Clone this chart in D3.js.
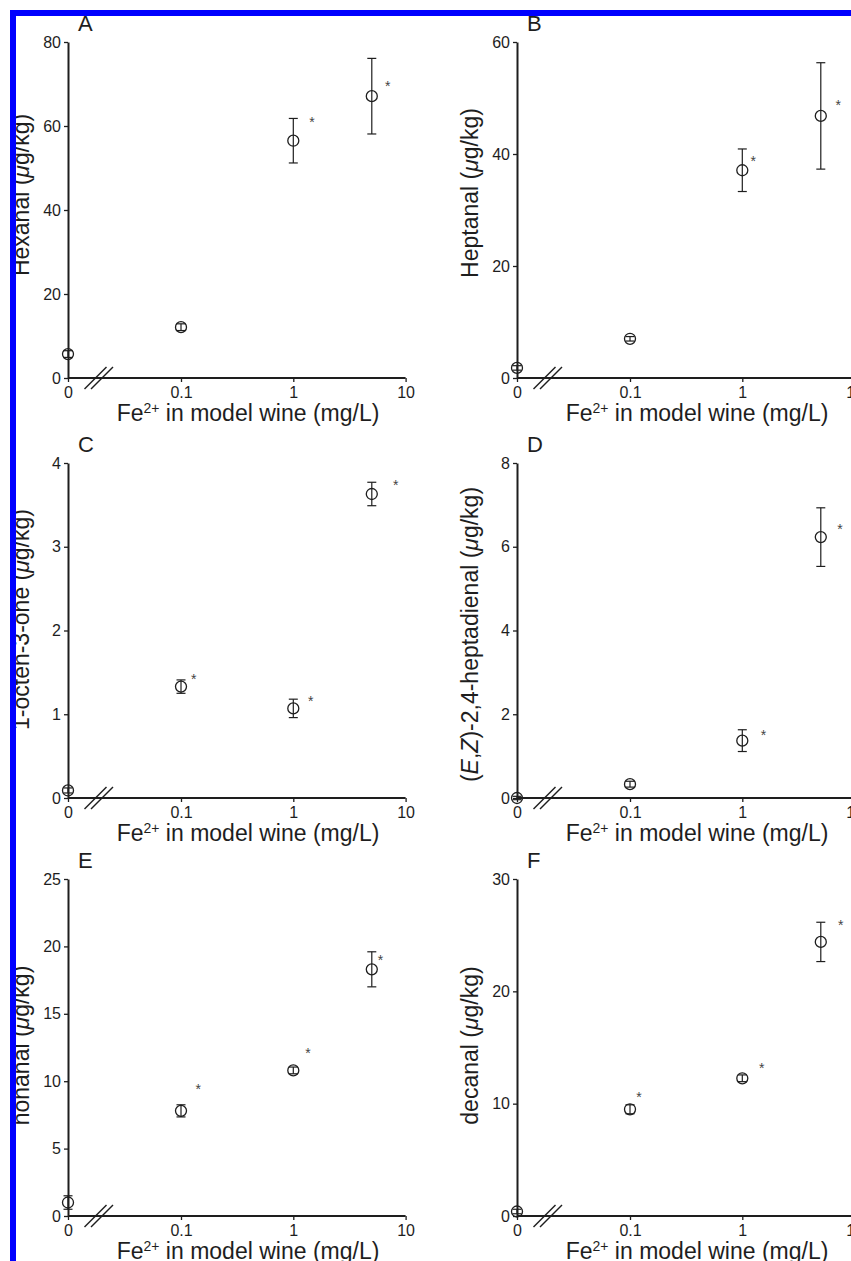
<!DOCTYPE html>
<html>
<head>
<meta charset="utf-8">
<script src="https://cdn.jsdelivr.net/npm/d3@7"></script>
<style>
  body { margin: 0; background: #fff; }
  svg { display: block; font-family: 'Liberation Sans', Arial, sans-serif; }
</style>
</head>
<body>
<div class="chart"></div>
<script>
// Fe2+ concentrations (mg/L); 0 sits on the broken part of the axis
const concentrations = [0, 0.1, 1, 5]
const xTicks = [0.1, 1, 10]

const hexanal = [5.7, 12.1, 56.5, 67.1]
const hexanalErr = [0.8, 0.8, 5.3, 9.0]
const hexanalStars = [[1.47, 61.7], [6.93, 70.2]]

const heptanal = [1.8, 7.0, 37.1, 46.8]
const heptanalErr = [0.4, 0.4, 3.8, 9.5]
const heptanalStars = [[1.25, 39.3], [7.16, 49.2]]

const octenone = [0.09, 1.33, 1.07, 3.63]
const octenoneErr = [0.03, 0.08, 0.11, 0.14]
const octenoneStars = [[0.13, 1.46], [1.43, 1.19], [8.16, 3.77]]

const heptadienal = [0.0, 0.33, 1.37, 6.23]
const heptadienalErr = [0.04, 0.07, 0.26, 0.7]
const heptadienalStars = [[1.54, 1.58], [7.4, 6.5]]

const nonanal = [1.0, 7.8, 10.8, 18.3]
const nonanalErr = [0.5, 0.45, 0.25, 1.3]
const nonanalStars = [[0.142, 9.64], [1.35, 12.3], [5.98, 19.2]]

const decanal = [0.4, 9.5, 12.26, 24.4]
const decanalErr = [0.2, 0.4, 0.3, 1.75]
const decanalStars = [[0.12, 10.9], [1.49, 13.4], [7.52, 26.2]]

const yTicksA = [0, 20, 40, 60, 80]
const yTicksB = [0, 20, 40, 60]
const yTicksC = [0, 1, 2, 3, 4]
const yTicksD = [0, 2, 4, 6, 8]
const yTicksE = [0, 5, 10, 15, 20, 25]
const yTicksF = [0, 10, 20, 30]

// label pieces: [text, italic]
const panels = [
  {letter: 'A', name: [['Hexanal (', 0], ['\u03bc', 1], ['g/kg)', 0]], values: hexanal, errs: hexanalErr, stars: hexanalStars, ticks: yTicksA, col: 0, row: 0, shift: -15},
  {letter: 'B', name: [['Heptanal (', 0], ['\u03bc', 1], ['g/kg)', 0]], values: heptanal, errs: heptanalErr, stars: heptanalStars, ticks: yTicksB, col: 1, row: 0, shift: -17},
  {letter: 'C', name: [['1-octen-3-one (', 0], ['\u03bc', 1], ['g/kg)', 0]], values: octenone, errs: octenoneErr, stars: octenoneStars, ticks: yTicksC, col: 0, row: 1, shift: -11},
  {letter: 'D', name: [['(', 0], ['E', 1], [',', 0], ['Z', 1], [')-2,4-heptadienal (', 0], ['\u03bc', 1], ['g/kg)', 0]], values: heptadienal, errs: heptadienalErr, stars: heptadienalStars, ticks: yTicksD, col: 1, row: 1, shift: 4},
  {letter: 'E', name: [['nonanal (', 0], ['\u03bc', 1], ['g/kg)', 0]], values: nonanal, errs: nonanalErr, stars: nonanalStars, ticks: yTicksE, col: 0, row: 2, shift: -2},
  {letter: 'F', name: [['decanal (', 0], ['\u03bc', 1], ['g/kg)', 0]], values: decanal, errs: decanalErr, stars: decanalStars, ticks: yTicksF, col: 1, row: 2, shift: -2}
]

const W = 851
const H = 1261
const colX = [68, 517]
const rowTop = [42, 463, 879]
const rowBottom = [378, 798, 1216]
const ink = '#1e1e1e'

const svg = d3.select('.chart')
  .append('svg')
  .attr('width', W)
  .attr('height', H)

svg.append('rect').attr('width', W).attr('height', H).attr('fill', '#fff')

panels.forEach(p => {
  const x0 = colX[p.col]
  const top = rowTop[p.row]
  const bottom = rowBottom[p.row]
  const g = svg.append('g')

  const x = d3.scaleLog().domain([0.1, 10]).range([x0 + 113, x0 + 337.6])
  const xZero = d3.scaleOrdinal().domain(['0']).range([x0])
  const xPos = v => (v === 0 ? x0 : x(v))
  const y = d3.scaleLinear()
    .domain([0, p.ticks[p.ticks.length - 1]])
    .range([bottom, top])

  // x axis: baseline, log ticks and the "0" tick
  g.append('line')
    .attr('x1', x0).attr('x2', x(10))
    .attr('y1', bottom).attr('y2', bottom)
    .attr('stroke', ink).attr('stroke-width', 2)

  const xa = g.append('g')
    .attr('transform', 'translate(0,' + bottom + ')')
    .call(d3.axisBottom(x).tickValues(xTicks).tickFormat(d3.format('')).tickSize(4).tickPadding(5))
  const xz = g.append('g')
    .attr('transform', 'translate(0,' + bottom + ')')
    .call(d3.axisBottom(xZero).tickSize(4).tickPadding(5))
  ;[xa, xz].forEach(a => {
    a.select('.domain').remove()
    a.selectAll('line').attr('stroke', ink).attr('stroke-width', 1.3)
    a.selectAll('text').attr('fill', ink).style('font-size', '16px')
      .attr('font-family', null)
  })

  // y axis
  const ya = g.append('g')
    .attr('transform', 'translate(' + x0 + ',0)')
    .call(d3.axisLeft(y).tickValues(p.ticks).tickFormat(d3.format('d')).tickSize(4).tickSizeOuter(0).tickPadding(3))
  ya.select('.domain').attr('stroke', ink).attr('stroke-width', 2)
  ya.selectAll('.tick line').attr('stroke', ink).attr('stroke-width', 1.3)
  ya.selectAll('text').attr('fill', ink).style('font-size', '16px').attr('font-family', null)

  // axis break marks
  ;[27.5, 34].forEach(off => {
    g.append('line')
      .attr('x1', x0 + off - 11).attr('y1', bottom + 11)
      .attr('x2', x0 + off + 11).attr('y2', bottom - 11)
      .attr('stroke', ink).attr('stroke-width', 1.5)
  })

  // x label
  const xl = g.append('text')
    .attr('x', x0 + 180).attr('y', bottom + 43)
    .attr('text-anchor', 'middle')
    .attr('fill', ink)
    .style('font-size', '23px')
  xl.append('tspan').text('Fe')
  xl.append('tspan').attr('dy', -8).style('font-size', '14px').text('2+')
  xl.append('tspan').attr('dy', 8).text(' in model wine (mg/L)')

  // y label
  const yl = g.append('text')
    .attr('transform', 'translate(' + (x0 - 39) + ',' + ((top + bottom) / 2 + p.shift) + ') rotate(-90)')
    .attr('text-anchor', 'middle')
    .attr('fill', ink)
    .style('font-size', '23px')
  p.name.forEach(([t, it]) => {
    yl.append('tspan').style('font-style', it ? 'italic' : null).text(t)
  })

  // panel letter
  g.append('text')
    .attr('x', x0 + 10).attr('y', top - 11)
    .attr('fill', ink)
    .style('font-size', '22px')
    .text(p.letter)

  // error bars and points
  const pts = concentrations.map((c, i) => ({c, v: p.values[i], e: p.errs[i]}))
  const bars = g.append('g').attr('stroke', ink).attr('stroke-width', 1.2)
  pts.forEach(d => {
    const cx = xPos(d.c)
    bars.append('line').attr('x1', cx).attr('x2', cx)
      .attr('y1', y(d.v - d.e)).attr('y2', y(d.v + d.e))
    ;[d.v - d.e, d.v + d.e].forEach(v => {
      bars.append('line').attr('x1', cx - 4.5).attr('x2', cx + 4.5)
        .attr('y1', y(v)).attr('y2', y(v))
    })
  })
  g.selectAll('circle.pt')
    .data(pts)
    .enter()
    .append('circle')
    .attr('class', 'pt')
    .attr('cx', d => xPos(d.c))
    .attr('cy', d => y(d.v))
    .attr('r', 5.5)
    .attr('fill', 'none')
    .attr('stroke', ink)
    .attr('stroke-width', 1.3)

  // significance asterisks
  g.selectAll('text.star')
    .data(p.stars)
    .enter()
    .append('text')
    .attr('class', 'star')
    .attr('x', d => x(d[0]))
    .attr('y', d => y(d[1]))
    .attr('dy', '0.57em')
    .attr('text-anchor', 'middle')
    .attr('fill', '#444')
    .style('font-size', '14px')
    .text('*')
})

// blue frame over the top and left edges
svg.append('rect').attr('x', 10).attr('y', 10).attr('width', W - 10).attr('height', 6).attr('fill', '#0000ff')
svg.append('rect').attr('x', 10).attr('y', 10).attr('width', 6).attr('height', H - 10).attr('fill', '#0000ff')
</script>
</body>
</html>
